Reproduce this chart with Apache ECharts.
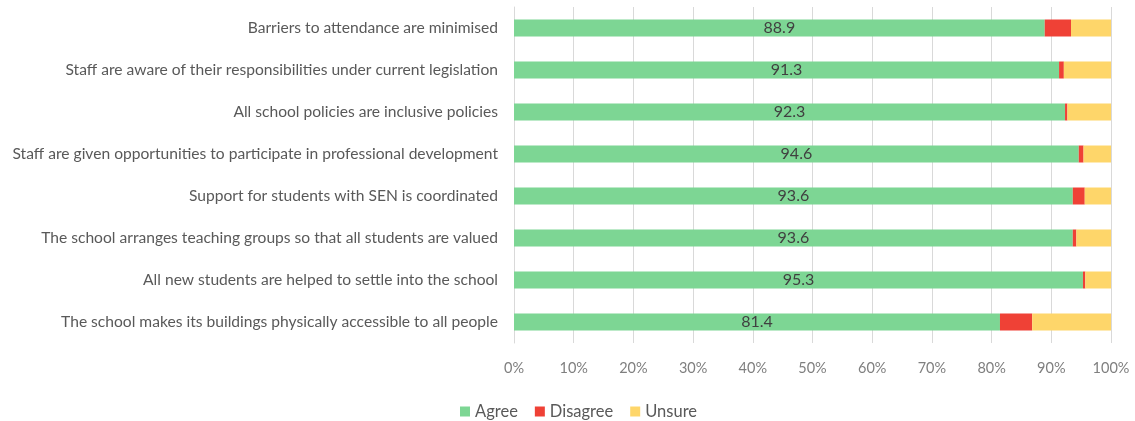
<!DOCTYPE html>
<html>
<head>
<meta charset="utf-8">
<script src="https://cdn.jsdelivr.net/npm/echarts@6/dist/echarts.min.js"></script>
<style>
  html, body { margin: 0; padding: 0; background: #fff; }
  #chart { width: 1135px; height: 421px; }
</style>
</head>
<body>
<div id="chart"></div>
<script>
// categories, top to bottom
const categories = [
    'Barriers to attendance are minimised',
    'Staff are aware of their responsibilities under current legislation',
    'All school policies are inclusive policies',
    'Staff are given opportunities to participate in professional development',
    'Support for students with SEN is coordinated',
    'The school arranges teaching groups so that all students are valued',
    'All new students are helped to settle into the school',
    'The school makes its buildings physically accessible to all people'
];
const agree    = [88.9, 91.3, 92.3, 94.6, 93.6, 93.6, 95.3, 81.4];
const disagree = [4.4, 0.8, 0.4, 0.8, 2.0, 0.6, 0.4, 5.4];
const unsure   = [6.7, 7.9, 7.3, 4.6, 4.4, 5.8, 4.3, 13.2];
const tickLabels = ['0%', '10%', '20%', '30%', '40%', '50%', '60%', '70%', '80%', '90%', '100%'];

const font = 'Lato, "Open Sans", sans-serif';
const chart = echarts.init(document.getElementById('chart'));

let option = {
    animation: false,
    backgroundColor: '#fff',
    textStyle: { fontFamily: font },
    grid: { left: 514, right: 24, top: 7, bottom: 78, containLabel: false },
    legend: {
        left: 455,
        top: 398,
        itemWidth: 10,
        itemHeight: 10,
        itemGap: 17,
        icon: 'rect',
        textStyle: { fontSize: 16.5, color: '#595959', fontFamily: font },
        data: ['Agree', 'Disagree', 'Unsure']
    },
    xAxis: {
        type: 'value',
        min: 0,
        max: 100,
        interval: 10,
        axisLine: { show: false },
        axisTick: { show: false },
        splitLine: { show: true, lineStyle: { color: '#d9d9d9', width: 1 } },
        axisLabel: {
            color: '#7f7f7f',
            fontSize: 14.5,
            margin: 18,
            formatter: (v) => tickLabels[Math.round(v / 10)]
        }
    },
    yAxis: {
        type: 'category',
        inverse: true,
        data: categories,
        axisLine: { show: true, lineStyle: { color: '#d9d9d9' } },
        axisTick: { show: false },
        axisLabel: { color: '#595959', fontSize: 15.6, margin: 16 }
    },
    series: [
        {
            name: 'Agree',
            type: 'bar',
            stack: 'all',
            barWidth: 17,
            itemStyle: { color: '#7dd694' },
            label: {
                show: true,
                position: 'inside',
                color: '#404040',
                fontSize: 16,
                fontFamily: font
            },
            data: agree
        },
        {
            name: 'Disagree',
            type: 'bar',
            stack: 'all',
            barWidth: 17,
            itemStyle: { color: '#ef4136' },
            data: disagree
        },
        {
            name: 'Unsure',
            type: 'bar',
            stack: 'all',
            barWidth: 17,
            itemStyle: { color: '#fed66a' },
            data: unsure
        }
    ]
};
chart.setOption(option);
</script>
</body>
</html>
